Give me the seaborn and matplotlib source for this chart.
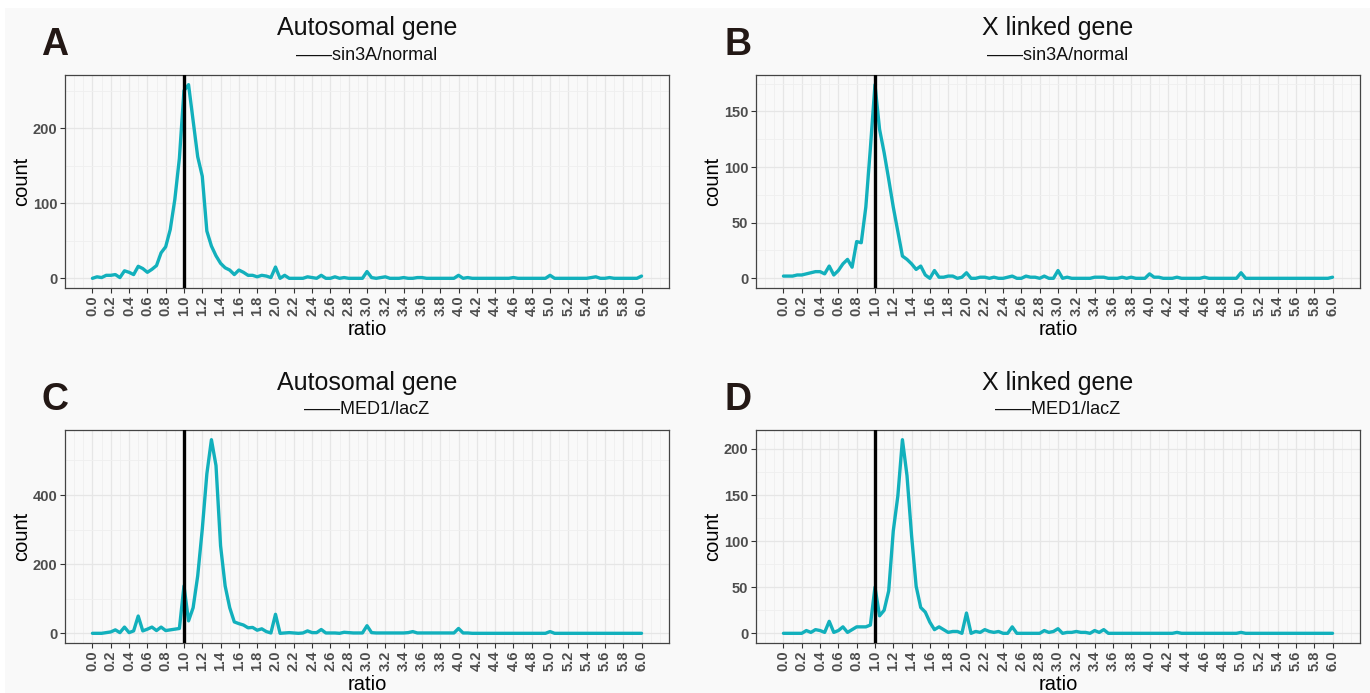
import numpy as np
import pandas as pd
import matplotlib
matplotlib.use("Agg")
import matplotlib.pyplot as plt
from matplotlib.patches import Rectangle
from matplotlib.ticker import MultipleLocator
import seaborn as sns

# --- data: counts per ratio bin (0.00 .. 6.00, step 0.05) ---
ratio = np.round(np.linspace(0, 6, 121), 2)

auto_sin3a = [0, 2, 1, 4, 4, 5, 1, 10, 8, 5,
              16, 13, 8, 12, 17, 34, 42, 65, 105, 160,
              250, 258, 210, 162, 136, 63, 43, 30, 20, 14,
              11, 5, 11, 8, 4, 4, 2, 4, 3, 1,
              15, 0, 4, 0, 0, 0, 0, 2, 1, 0,
              4, 0, 0, 2, 0, 1, 0, 0, 0, 0,
              9, 1, 0, 1, 2, 0, 0, 0, 1, 0,
              0, 1, 1, 0, 0, 0, 0, 0, 0, 0,
              4, 0, 1, 0, 0, 0, 0, 0, 0, 0,
              0, 0, 1, 0, 0, 0, 0, 0, 0, 0,
              4, 0, 0, 0, 0, 0, 0, 0, 0, 1,
              2, 0, 0, 1, 0, 0, 0, 0, 0, 0,
              3]

x_sin3a = [2, 2, 2, 3, 3, 4, 5, 6, 6, 4,
           11, 3, 7, 13, 17, 10, 33, 32, 64, 117,
           174, 134, 113, 89, 64, 42, 20, 17, 13, 8,
           11, 3, 0, 7, 1, 1, 2, 2, 0, 1,
           5, 0, 0, 1, 1, 0, 1, 0, 0, 1,
           2, 0, 0, 2, 1, 1, 0, 2, 0, 0,
           7, 0, 1, 0, 0, 0, 0, 0, 1, 1,
           1, 0, 0, 0, 1, 0, 1, 0, 0, 0,
           4, 1, 1, 0, 0, 0, 1, 0, 0, 0,
           0, 0, 1, 0, 0, 0, 0, 0, 0, 0,
           5, 0, 0, 0, 0, 0, 0, 0, 0, 0,
           0, 0, 0, 0, 0, 0, 0, 0, 0, 0,
           1]

auto_med1 = [0, 0, 0, 2, 4, 10, 2, 18, 2, 7,
             50, 7, 12, 18, 8, 18, 8, 10, 12, 14,
             137, 36, 74, 166, 301, 461, 560, 485, 253, 137,
             74, 33, 28, 24, 16, 17, 9, 13, 5, 1,
             55, 0, 1, 2, 1, 0, 1, 7, 2, 2,
             11, 1, 1, 1, 0, 3, 2, 1, 1, 1,
             22, 2, 1, 1, 1, 1, 1, 1, 1, 2,
             5, 1, 1, 1, 1, 1, 1, 1, 1, 1,
             14, 1, 1, 0, 0, 0, 0, 0, 0, 0,
             0, 0, 0, 0, 0, 0, 0, 0, 0, 0,
             5, 0, 0, 0, 0, 0, 0, 0, 0, 0,
             0, 0, 0, 0, 0, 0, 0, 0, 0, 0,
             0]

x_med1 = [0, 0, 0, 0, 0, 3, 1, 4, 3, 1,
          13, 1, 3, 7, 1, 4, 7, 7, 7, 9,
          50, 19, 25, 46, 111, 149, 210, 171, 106, 51,
          28, 23, 12, 4, 7, 4, 1, 2, 2, 0,
          22, 0, 2, 1, 4, 2, 1, 2, 0, 0,
          7, 0, 0, 0, 0, 0, 0, 3, 1, 2,
          5, 0, 1, 1, 2, 1, 1, 0, 3, 1,
          4, 0, 0, 0, 0, 0, 0, 0, 0, 0,
          0, 0, 0, 0, 0, 0, 1, 0, 0, 0,
          0, 0, 0, 0, 0, 0, 0, 0, 0, 0,
          1, 0, 0, 0, 0, 0, 0, 0, 0, 0,
          0, 0, 0, 0, 0, 0, 0, 0, 0, 0,
          0]

titles = ["Autosomal gene", "X linked gene", "Autosomal gene", "X linked gene"]
subtitles = ["——sin3A/normal", "——sin3A/normal", "——MED1/lacZ", "——MED1/lacZ"]
letters = ["A", "B", "C", "D"]
y_steps = [100, 50, 200, 50]
x_ticks = np.round(np.arange(0, 6.01, 0.2), 1)

series = [auto_sin3a, x_sin3a, auto_med1, x_med1]

sns.set_theme(style="whitegrid")
plt.rcParams['font.family'] = ['Liberation Sans', 'DejaVu Sans']

W, H = 1370, 693
fig = plt.figure(figsize=(W / 100, H / 100), dpi=100, facecolor="white")
# light grey backdrop with a thin white margin, like the source image
fig.patches.append(Rectangle((5 / W, 0), 1, 1 - 8 / H, transform=fig.transFigure,
                             facecolor="#F9F9F9", edgecolor="none", zorder=-10))

# axes boxes in pixels: left, top, right, bottom
boxes = [(65, 75, 669, 288), (756, 75, 1360, 288),
         (65, 430, 669, 643), (756, 430, 1360, 643)]

teal = "#12B0BC"
grey_txt = "#4D4D4D"

for i, (l, t, r, b) in enumerate(boxes):
    ax = fig.add_axes([l / W, 1 - b / H, (r - l) / W, (b - t) / H])
    ax.set_facecolor("#F9F9F9")
    df = pd.DataFrame({"ratio": ratio, "count": series[i]})
    sns.lineplot(data=df, x="ratio", y="count", color=teal, linewidth=2.4, ax=ax, zorder=3)
    ax.axvline(1.0, color="black", linewidth=2.4, zorder=4)

    ymax = max(series[i])
    ax.set_xlim(-0.3, 6.3)
    ax.set_ylim(-0.05 * ymax, 1.05 * ymax)

    ax.set_xticks(x_ticks)
    ax.set_xticklabels([f"{v:.1f}" for v in x_ticks], rotation=90,
                       fontsize=10.5, fontweight="bold", color=grey_txt)
    ax.xaxis.set_minor_locator(MultipleLocator(0.1))
    ax.yaxis.set_major_locator(MultipleLocator(y_steps[i]))
    ax.yaxis.set_minor_locator(MultipleLocator(y_steps[i] / 2))
    for lab in ax.get_yticklabels():
        lab.set_fontsize(10.5)
        lab.set_fontweight("bold")
        lab.set_color(grey_txt)

    ax.grid(which="major", color="#E6E6E6", linewidth=0.9)
    ax.grid(which="minor", color="#EFEFEF", linewidth=0.6)
    ax.tick_params(which="major", length=3.5, width=0.8, color="#333333", pad=2,
                   bottom=True, left=True)
    ax.tick_params(which="minor", length=0)
    for s in ax.spines.values():
        s.set_color("#444444")
        s.set_linewidth(0.9)

    ax.set_xlabel("ratio", fontsize=14.5, labelpad=3, color="black")
    ax.set_ylabel("count", fontsize=14.5, labelpad=1, color="black")

    cx = (l + r) / 2 / W
    fig.text(cx, 1 - 28 / H if i < 2 else 1 - 383 / H, titles[i],
             ha="center", va="center", fontsize=18, color="#111111")
    fig.text(cx, 1 - 56 / H if i < 2 else 1 - 410 / H, subtitles[i],
             ha="center", va="center", fontsize=13, color="#111111",
             family=['Liberation Sans Narrow', 'Liberation Sans', 'DejaVu Sans'])
    lx = 55 if i % 2 == 0 else 738
    ly = 45 if i < 2 else 400
    fig.text(lx / W, 1 - ly / H, letters[i], ha="center", va="center",
             fontsize=27, fontweight="bold", color="#231815")

fig.savefig("out.png", dpi=100, facecolor=fig.get_facecolor())
